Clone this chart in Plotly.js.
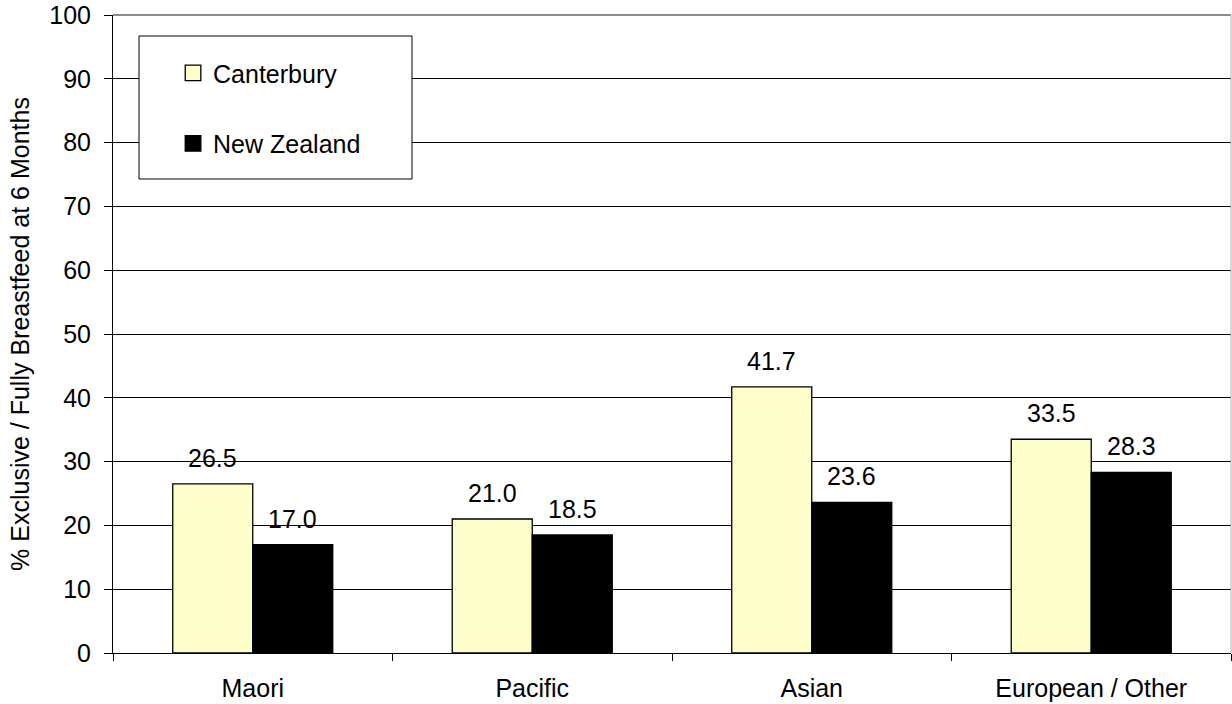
<!DOCTYPE html>
<html>
<head>
<meta charset="utf-8">
<script src="https://cdn.plot.ly/plotly-3.0.1.min.js"></script>
<style>
  html, body { margin: 0; padding: 0; background: #ffffff; }
  #chart { width: 1232px; height: 704px; }
</style>
</head>
<body>
<div id="chart"></div>
<script>
// Exclusive / fully breastfed at 6 months, by ethnicity
const categories = ['Maori', 'Pacific', 'Asian', 'European / Other'];
const canterbury = [26.5, 21.0, 41.7, 33.5];
const newZealand = [17.0, 18.5, 23.6, 28.3];
const seriesNames = ['Canterbury', 'New Zealand'];
const yTicks = [0, 10, 20, 30, 40, 50, 60, 70, 80, 90, 100];

const FONT = 'Liberation Sans, Arial, sans-serif';
const FS = 25;
const BARGAP = 0.4275;

const traces = [
  {
    type: 'bar', name: seriesNames[0], x: categories, y: canterbury,
    marker: { color: '#FFFFCC', line: { color: '#000000', width: 1.3 } },
    legendgroup: 'a', hoverinfo: 'skip'
  },
  {
    type: 'bar', name: seriesNames[1], x: categories, y: newZealand,
    marker: { color: '#000000', line: { color: '#000000', width: 1.3 } },
    legendgroup: 'b', hoverinfo: 'skip'
  }
];

// value labels sit above each bar, offset to the bar's slot inside its group
const slot = (1 - BARGAP) / 4;
const annotations = [];
[canterbury, newZealand].forEach((vals, s) => {
  vals.forEach((v, i) => {
    annotations.push({
      xref: 'x', yref: 'y', x: i + (s === 0 ? -slot : slot), y: v,
      text: v.toFixed(1), showarrow: false,
      xanchor: 'center', yanchor: 'bottom', yshift: 10,
      font: { family: FONT, size: FS, color: '#000000' }
    });
  });
});

const layout = {
  width: 1232, height: 704,
  margin: { l: 113, r: 1, t: 15, b: 51, pad: 0 },
  paper_bgcolor: '#ffffff', plot_bgcolor: '#ffffff',
  font: { family: FONT, size: FS, color: '#000000' },
  barmode: 'group', bargap: BARGAP, bargroupgap: 0,
  showlegend: true,
  legend: {
    x: 0.0537, xanchor: 'left', y: 0.945, yanchor: 'top',
    bgcolor: 'rgba(0,0,0,0)', borderwidth: 0,
    traceorder: 'grouped', tracegroupgap: 35,
    font: { family: FONT, size: FS, color: '#000000' }
  },
  xaxis: {
    type: 'category', showgrid: false, zeroline: false,
    showline: true, linecolor: '#000000', linewidth: 1,
    ticks: 'outside', tickson: 'boundaries', ticklen: 7, tickcolor: '#000000',
    ticklabelstandoff: 13,
    tickfont: { family: FONT, size: FS, color: '#000000' }
  },
  yaxis: {
    range: [0, 100], tickvals: yTicks, ticktext: yTicks.map(String),
    showgrid: true, gridcolor: '#000000', gridwidth: 1, zeroline: false,
    showline: true, linecolor: '#000000', linewidth: 1,
    ticks: 'outside', ticklen: 8, tickcolor: '#000000',
    ticklabelstandoff: 8,
    tickfont: { family: FONT, size: FS, color: '#000000' },
    title: {
      text: '% Exclusive / Fully Breastfeed at 6 Months',
      font: { family: FONT, size: FS, color: '#000000' },
      standoff: 12
    }
  },
  shapes: [
    // plot frame: top and right edges in grey
    { type: 'line', xref: 'paper', yref: 'paper', x0: 0, x1: 1, y0: 1, y1: 1,
      line: { color: '#8c8c8c', width: 2 }, layer: 'above' },
    { type: 'line', xref: 'paper', yref: 'paper', x0: 1, x1: 1, y0: 0, y1: 1,
      line: { color: '#b0b0b0', width: 1 }, layer: 'above' },
    // legend box
    { type: 'rect', xref: 'paper', yref: 'paper',
      x0: (139 - 113) / 1118, x1: (412 - 113) / 1118,
      y0: (653 - 179) / 638, y1: (653 - 36) / 638,
      fillcolor: '#ffffff', line: { color: '#000000', width: 1 }, layer: 'above' }
  ],
  annotations: annotations
};

Plotly.newPlot('chart', traces, layout, { staticPlot: true, displayModeBar: false }).then(gd => {
  // slightly larger legend swatches
  gd.querySelectorAll('.legendpoints path').forEach(p => {
    const t = p.getAttribute('transform') || '';
    p.setAttribute('transform', t + ' scale(1.3)');
    p.style.strokeWidth = '1px';
  });
});
</script>
</body>
</html>
